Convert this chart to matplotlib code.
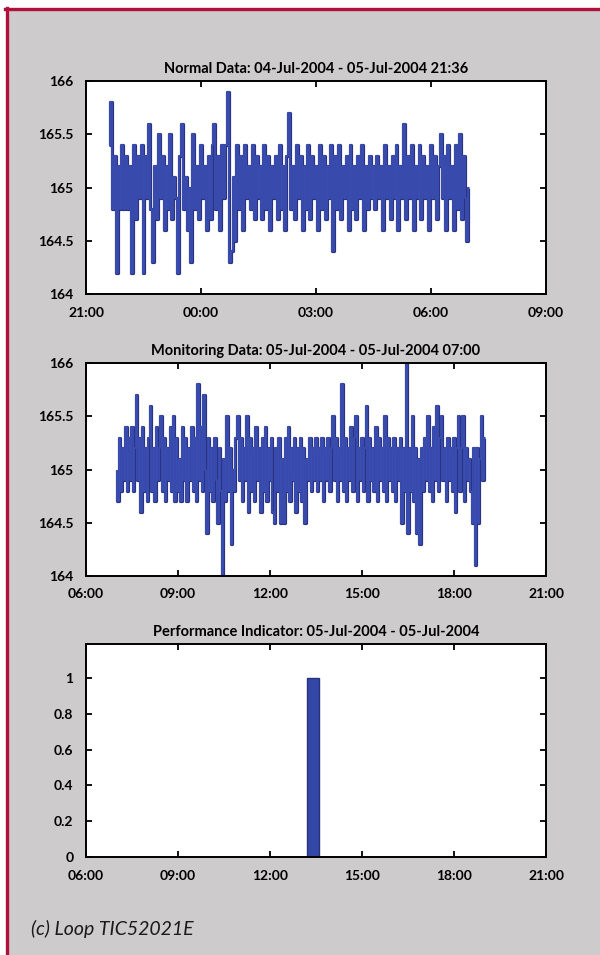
import matplotlib
matplotlib.use("Agg")
import matplotlib.pyplot as plt
import matplotlib.dates as mdates
import numpy as np
import pandas as pd
from matplotlib.patches import Rectangle
from matplotlib.lines import Line2D

# ---------------- data ----------------
normal_start = "2004-07-04 21:36"
normal_step_min = 3
normal_values = [
    165.4, 165.8, 164.8, 165.3, 164.2, 165.2, 164.8, 165.4, 164.8, 165.3, 164.8, 165.2, 164.2, 165.4, 164.7, 165.3, 164.9, 165.4, 164.2, 165.3,
    164.9, 165.6, 164.8, 164.3, 165.2, 164.7, 165.5, 164.9, 165.3, 164.6, 165.2, 164.8, 165.5, 164.7, 165.1, 164.9, 164.2, 165.3, 165.6, 164.8,
    165.1, 164.6, 165.0, 164.3, 165.5, 164.8, 165.2, 164.7, 165.4, 164.9, 165.2, 164.6, 165.3, 164.7, 165.4, 165.6, 164.8, 165.3, 164.6, 165.4,
    164.9, 165.4, 165.9, 164.3, 164.4, 165.1, 164.5, 165.4, 164.8, 165.3, 164.6, 165.4, 164.9, 165.2, 164.8, 165.4, 164.7, 165.3, 164.9, 165.2,
    164.7, 165.4, 164.8, 165.3, 164.6, 165.2, 164.9, 165.3, 164.7, 165.4, 164.8, 165.2, 164.6, 165.3, 165.7, 164.8, 165.2, 164.7, 165.4, 164.9,
    165.3, 164.6, 165.2, 164.8, 165.4, 164.7, 165.3, 164.9, 165.2, 164.6, 165.4, 164.8, 165.3, 164.7, 165.2, 164.9, 165.4, 164.4, 165.3, 164.8,
    165.4, 164.7, 165.2, 164.9, 165.3, 164.6, 165.4, 164.8, 165.2, 164.7, 165.3, 164.9, 165.4, 164.6, 165.2, 164.8, 165.3, 164.9, 165.2, 164.8,
    165.3, 164.9, 165.2, 164.6, 165.4, 164.9, 165.2, 164.7, 165.3, 164.9, 165.4, 164.6, 165.2, 164.9, 165.6, 164.7, 165.3, 164.9, 165.4, 164.6,
    165.2, 164.9, 165.4, 164.7, 165.3, 164.9, 165.2, 164.6, 165.4, 164.9, 165.3, 164.7, 165.2, 165.5, 164.9, 165.3, 164.6, 165.4, 164.9, 165.2,
    164.6, 165.4, 164.8, 165.5, 164.7, 165.3, 164.9, 164.5, 165.0,
]

monitor_start = "2004-07-05 07:00"
monitor_step_min = 3
monitor_values = [
    165.0, 164.7, 165.3, 164.8, 165.2, 164.9, 165.4, 164.8, 165.3, 164.9, 165.4, 164.8, 165.2, 165.7, 164.9, 165.3, 164.6, 165.4, 164.8, 165.2,
    164.7, 165.3, 165.6, 164.8, 165.2, 164.7, 165.4, 164.9, 165.2, 165.5, 164.8, 165.3, 164.7, 165.2, 164.9, 165.4, 164.8, 165.5, 164.7, 165.3,
    164.8, 165.1, 164.7, 165.4, 164.9, 165.3, 164.7, 165.2, 164.9, 165.4, 164.8, 165.3, 164.7, 165.8, 164.9, 165.4, 164.8, 165.7, 165.0, 164.4,
    165.3, 164.8, 165.2, 164.7, 165.3, 164.9, 164.5, 165.2, 164.8, 164.0, 165.1, 164.7, 165.5, 164.8, 165.2, 164.3, 165.0, 164.8, 165.3, 165.5,
    164.9, 165.3, 164.7, 165.2, 164.9, 165.5, 164.6, 165.3, 164.8, 165.2, 164.7, 165.4, 164.9, 165.2, 164.6, 165.3, 164.8, 165.4, 164.7, 165.2,
    164.9, 165.3, 164.6, 164.5, 165.2, 164.8, 165.3, 164.5, 165.1, 164.5, 165.3, 164.8, 165.4, 164.7, 165.2, 164.9, 165.3, 164.6, 165.2, 164.8,
    165.3, 164.7, 165.2, 164.5, 165.1, 164.9, 165.3, 164.8, 165.2, 164.9, 165.3, 164.8, 165.2, 164.9, 165.3, 164.7, 165.2, 164.9, 165.3, 164.8,
    165.2, 165.5, 164.9, 165.3, 164.7, 165.2, 164.9, 165.8, 164.8, 165.3, 164.7, 165.2, 164.9, 165.4, 164.8, 165.3, 165.5, 164.7, 165.2, 164.9,
    165.3, 164.8, 165.2, 165.6, 164.7, 165.3, 164.9, 165.2, 164.8, 165.4, 164.7, 165.3, 164.9, 165.2, 164.8, 165.5, 164.7, 165.3, 164.9, 165.2,
    164.8, 165.3, 164.7, 165.2, 164.9, 165.3, 164.5, 165.2, 164.8, 166.0, 164.4, 165.2, 164.8, 165.5, 164.7, 165.2, 164.4, 165.1, 164.3, 165.2,
    164.8, 165.3, 164.9, 165.5, 164.8, 165.2, 164.7, 165.4, 164.9, 165.6, 164.8, 165.3, 165.5, 164.9, 165.2, 164.7, 165.3, 164.9, 165.2, 164.8,
    165.3, 164.6, 165.2, 165.5, 164.8, 165.2, 165.5, 164.7, 165.2, 164.9, 165.1, 164.8, 164.5, 165.2, 164.1, 165.2, 164.5, 165.1, 165.5, 164.9,
    165.3,
]

perf_start = "2004-07-05 07:00"
perf_step_min = 24
perf_values = [0, 0, 0, 0, 0, 0, 0, 0, 0, 0, 0, 0, 0, 0, 0, 0, 1,
               0, 0, 0, 0, 0, 0, 0, 0, 0, 0, 0, 0, 0, 0]

titles = ["Normal Data: 04-Jul-2004 - 05-Jul-2004 21:36",
          "Monitoring Data: 05-Jul-2004 - 05-Jul-2004 07:00",
          "Performance Indicator: 05-Jul-2004 - 05-Jul-2004"]
xlims = [("2004-07-04 21:00", "2004-07-05 09:00"),
         ("2004-07-05 06:00", "2004-07-05 21:00"),
         ("2004-07-05 06:00", "2004-07-05 21:00")]
ts_yticks = [164, 164.5, 165, 165.5, 166]
ts_yticklabels = ["164", "164.5", "165", "165.5", "166"]
perf_yticks = [0, 0.2, 0.4, 0.6, 0.8, 1]
perf_yticklabels = ["0", "0.2", "0.4", "0.6", "0.8", "1"]
footer = "(c) Loop TIC52021E"

# ---------------- style ----------------
BG = "#cdcbcb"
LINE_DARK = "#2a3282"
LINE = "#3a4db0"
BAR = "#3348a6"
BAR_EDGE = "#27327e"
BORDER = "#b0103c"
FONT = ["Lato", "DejaVu Sans"]

plt.rcParams["font.family"] = FONT
plt.rcParams["font.weight"] = "bold"

W, H = 600, 955
fig = plt.figure(figsize=(W / 100, H / 100), dpi=100)
fig.patch.set_facecolor("white")

# gray panel with red border on left and top
fig.add_artist(Rectangle((6 / W, 0), 1, 1 - 9 / H, transform=fig.transFigure,
                         facecolor=BG, edgecolor="none", zorder=-10))
fig.add_artist(Line2D([6.5 / W, 6.5 / W], [0, 1 - 8.5 / H], transform=fig.transFigure,
                      color=BORDER, lw=2.4, zorder=-5))
fig.add_artist(Line2D([5.3 / W, 1], [1 - 9.5 / H, 1 - 9.5 / H], transform=fig.transFigure,
                      color=BORDER, lw=2.4, zorder=-5))

left, width = 86 / W, 460 / W
tops = [81, 363, 644]
ax_h = 213

axes = []
for top in tops:
    ax = fig.add_axes([left, 1 - (top + ax_h) / H, width, ax_h / H])
    axes.append(ax)


def style_axes(ax, title, xlim):
    ax.set_facecolor("white")
    for s in ax.spines.values():
        s.set_linewidth(1.4)
        s.set_color("black")
    ax.tick_params(direction="in", top=True, right=True, length=4, width=1.3,
                   labelsize=10, colors="black")
    ax.tick_params(axis="x", pad=9)
    ax.tick_params(axis="y", pad=9)
    ax.set_title(title, fontsize=10.5, fontweight="bold", pad=6)
    ax.set_xlim(pd.Timestamp(xlim[0]), pd.Timestamp(xlim[1]))
    ax.xaxis.set_major_locator(mdates.HourLocator(byhour=range(0, 24, 3)))
    ax.xaxis.set_major_formatter(mdates.DateFormatter("%H:%M"))


def draw_series(ax, t, v):
    ax.plot(t, v, color=LINE_DARK, lw=2.3, drawstyle="steps-mid", solid_capstyle="butt")
    ax.plot(t, v, color=LINE, lw=1.3, drawstyle="steps-mid", solid_capstyle="butt")


# panel 1
t1 = pd.date_range(normal_start, periods=len(normal_values), freq=f"{normal_step_min}min")
draw_series(axes[0], t1, normal_values)
axes[0].set_ylim(164, 166)
axes[0].set_yticks(ts_yticks)
axes[0].set_yticklabels(ts_yticklabels)

# panel 2
t2 = pd.date_range(monitor_start, periods=len(monitor_values), freq=f"{monitor_step_min}min")
draw_series(axes[1], t2, monitor_values)
axes[1].set_ylim(164, 166)
axes[1].set_yticks(ts_yticks)
axes[1].set_yticklabels(ts_yticklabels)

# panel 3
t3 = pd.date_range(perf_start, periods=len(perf_values), freq=f"{perf_step_min}min")
axes[2].bar(t3, perf_values, width=pd.Timedelta(minutes=perf_step_min),
            color=BAR, edgecolor=BAR_EDGE, linewidth=1.0)
axes[2].set_ylim(0, 1.19)
axes[2].set_yticks(perf_yticks)
axes[2].set_yticklabels(perf_yticklabels)

for ax, title, xl in zip(axes, titles, xlims):
    style_axes(ax, title, xl)

fig.text(31 / W, 1 - 929 / H, footer, fontsize=14, fontstyle="italic",
         fontweight="normal", ha="left", va="center", color="#1a1a1a")

fig.savefig("out.png", dpi=100, facecolor=fig.get_facecolor())
